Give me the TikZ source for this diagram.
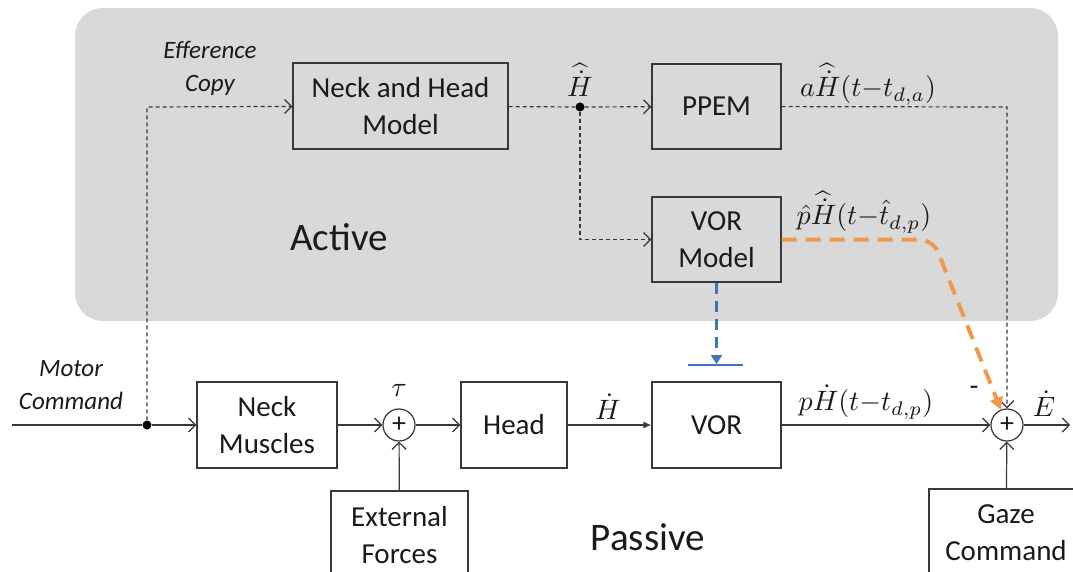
\documentclass[tikz,border=0pt]{standalone}
\usepackage{graphicx}
\usepackage{fontspec}
\setmainfont{Carlito}
\usetikzlibrary{arrows.meta}
\definecolor{bg}{HTML}{D9D9D9}
\definecolor{linec}{HTML}{383838}
\definecolor{txt}{HTML}{1A1A1A}
\definecolor{bluec}{HTML}{3C75BB}
\definecolor{orangec}{HTML}{EE9A48}
\newcommand\boxfont{\fontsize{29}{37}\selectfont}
\newcommand\bigfont{\fontsize{39}{45}\selectfont}
\newcommand\itfont{\fontsize{25}{33}\selectfont\itshape}
\newcommand\plusfont{\fontsize{28}{30}\selectfont}
\newcommand\mm[1]{\scalebox{2.8}{$#1$}}
\begin{document}
\begin{tikzpicture}[x=1pt,y=-1pt,
  blk/.style={draw=linec, line width=1.3pt, minimum height=86pt, inner sep=0pt, align=center, font=\boxfont, text=txt},
  sumc/.style={draw=linec, circle, line width=1.2pt, minimum size=32pt, inner sep=0pt, font=\plusfont, text=txt},
  jdot/.style={circle, fill=black, minimum size=9pt, inner sep=0pt},
  lab/.style={font=\normalsize, text=txt, inner sep=0pt},
  itlab/.style={font=\itfont, text=txt, align=center, inner sep=0pt},
  biglab/.style={font=\bigfont, text=txt, inner sep=0pt},
  arr/.style={draw=linec, line width=1.2pt, -{Straight Barb[length=7pt,width=14pt,line width=1.2pt]}},
  darr/.style={arr, dash pattern=on 4pt off 3pt},
  dline/.style={draw=linec, line width=1.2pt, dash pattern=on 4pt off 3pt},
  bluearr/.style={draw=bluec, line width=3pt, dash pattern=on 11pt off 7pt, -{Triangle[length=9pt,width=11pt]}},
  orangearr/.style={draw=orangec, line width=4pt, dash pattern=on 15pt off 9pt, rounded corners=14pt, -{Triangle[length=12pt,width=13pt]}}
]
\useasboundingbox (0,0) rectangle (1073,572);
\clip (0,0) rectangle (1073,572);
\fill[white] (0,0) rectangle (1073,572);
% active region
\fill[bg, rounded corners=28pt] (75,8) rectangle (1058,321);

% blocks
\node[blk, minimum width=215pt] (nhm) at (400.5,106) {Neck and Head\\Model};
\node[blk, minimum width=129pt, minimum height=85pt] (ppem) at (716.5,106.5) {PPEM};
\node[blk, minimum width=129pt, minimum height=85pt] (vorm) at (716.5,239.5) {VOR\\Model};
\node[blk, minimum width=140pt] (nm) at (267,425) {Neck\\Muscles};
\node[blk, minimum width=106pt] (head) at (514,425) {Head};
\node[blk, minimum width=129pt] (vor) at (716.5,425) {VOR};
\node[blk, minimum width=137pt, minimum height=89pt] (ext) at (399.5,535.5) {External\\Forces};
\node[blk, minimum width=154pt, minimum height=87pt] (gaze) at (1006,532.5) {Gaze\\Command};

\node[sumc] (s1) at (399,425) {+};
\node[sumc] (s2) at (1007,425) {+};

\node[jdot] (d1) at (147,425) {};
\node[jdot] (d2) at (580,107) {};

\coordinate (mstart) at (12,425);
\coordinate (eout) at (1070,425);
\coordinate (c1) at (147,107);
\coordinate (c2) at (1007,107);
\coordinate (c3) at (580,239.5);
\coordinate (c4) at (933,239.5);
\coordinate (btip) at (716.5,364);
\coordinate (barl) at (688,365);
\coordinate (barr) at (743,365);

% text labels
\node[itlab] (eff) at (210,68) {Efference\\Copy};
\node[itlab] (mot) at (71,385) {Motor\\Command};
\node[biglab] (act) at (339,237) {Active};
\node[biglab] (pas) at (648,537) {Passive};
\node[lab] (lh) at (580,80) {\mm{\widehat{\dot H}}};
\node[lab] (la) at (868,84) {\mm{a\widehat{\dot H}(t{-}t_{d,a})}};
\node[lab] (lp) at (864,212) {\mm{\hat p\widehat{\dot H}(t{-}\hat t_{d,p})}};
\node[lab] (lhd) at (608,407) {\mm{\dot H}};
\node[lab] (lph) at (866,402) {\mm{p\dot H(t{-}t_{d,p})}};
\node[lab] (le) at (1044,404) {\mm{\dot E}};
\node[lab] (lt) at (399,390) {\mm{\tau}};
\node[font=\boxfont, text=txt, inner sep=0pt] (minus) at (974,391) {-};

% passive path
\draw[draw=linec, line width=1.2pt] (mstart) -- (d1);
\draw[arr] (d1) -- (nm);
\draw[arr] (nm) -- (s1);
\draw[arr] (ext) -- (s1);
\draw[arr] (s1) -- (head);
\draw[draw=linec, line width=1.2pt, -{Latex[length=8pt,width=7pt]}] (head) -- (vor);
\draw[arr] (vor) -- (s2);
\draw[arr] (gaze) -- (s2);
\draw[arr] (s2) -- (eout);

% active (dashed) paths
\draw[darr] (d1) -- (c1) -- (nhm);
\draw[dline] (nhm) -- (d2);
\draw[darr] (d2) -- (ppem);
\draw[darr] (d2) -- (c3) -- (vorm);
\draw[darr] (ppem) -- (c2) -- (s2);

% coloured paths
\draw[bluearr] (vorm) -- (btip);
\draw[draw=bluec, line width=2.5pt] (barl) -- (barr);
\draw[orangearr] (vorm.east) -- (c4) -- (s2);
\end{tikzpicture}
\end{document}
